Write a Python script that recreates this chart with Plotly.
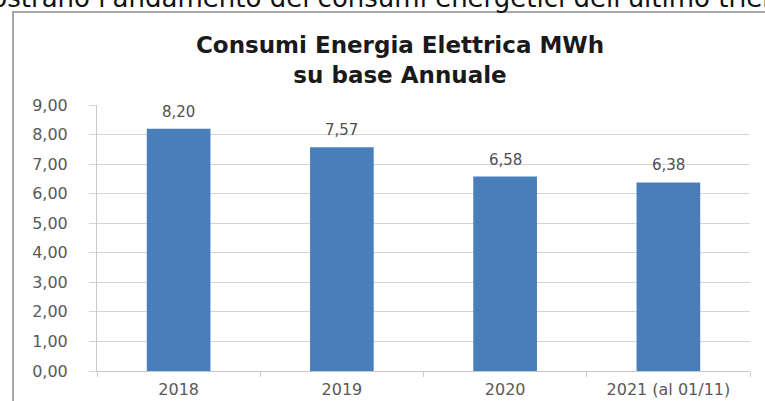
import plotly.graph_objects as go

categories = ["2018", "2019", "2020", "2021 (al 01/11)"]
values = [8.20, 7.57, 6.58, 6.38]
y_ticks = [0, 1, 2, 3, 4, 5, 6, 7, 8, 9]
title_text = "Consumi Energia Elettrica MWh<br>su base Annuale"
top_text = "mostrano l'andamento dei consumi energetici dell'ultimo triennio."

W, H = 765, 401
ML, MR, MT, MB = 97, 15, 105, 30
PW = W - ML - MR
PH = H - MT - MB

def px_x(px):
    return (px - ML) / PW

def px_y(py):
    return (H - MB - py) / PH

FONT = "DejaVu Sans"
GRAY = "#595959"

fig = go.Figure()
fig.add_trace(go.Bar(
    x=categories, y=values,
    marker=dict(color="#4a7ebb", line=dict(width=0)),
    width=0.39,
    hoverinfo="skip",
))

annotations = []
for i, v in enumerate(values):
    annotations.append(dict(
        x=i, y=v, xref="x", yref="y",
        text=f"{v:.2f}".replace(".", ","),
        showarrow=False, yanchor="bottom", yshift=6,
        font=dict(family=FONT, size=15, color="#505050"),
    ))

annotations.append(dict(
    x=px_x(-36), y=px_y(15), xref="paper", yref="paper",
    xanchor="left", yanchor="bottom",
    text=top_text, showarrow=False,
    font=dict(family=FONT, size=26, color="#111111"),
))

shapes = [
    dict(type="line", xref="paper", yref="paper",
         x0=px_x(12), x1=px_x(770), y0=px_y(12), y1=px_y(12),
         line=dict(color="#a8a8a8", width=2)),
    dict(type="line", xref="paper", yref="paper",
         x0=px_x(13), x1=px_x(13), y0=px_y(12), y1=px_y(410),
         line=dict(color="#a8a8a8", width=2)),
]

fig.update_layout(
    width=W, height=H,
    margin=dict(l=ML, r=MR, t=MT, b=MB, autoexpand=False),
    paper_bgcolor="white", plot_bgcolor="white",
    separators=",.",
    showlegend=False,
    title=dict(text=title_text, x=400 / W, xref="container", xanchor="center",
               y=1 - 53 / H, yref="container", yanchor="top",
               font=dict(family=FONT, size=23, color="#1a1a1a", weight="bold")),
    annotations=annotations,
    shapes=shapes,
    xaxis=dict(
        type="category", range=[-0.5, 3.5], showgrid=False,
        showline=True, linecolor="#c8c8c8", linewidth=1,
        ticks="outside", tickson="boundaries", ticklen=5, tickcolor="#c8c8c8",
        tickfont=dict(family=FONT, size=16, color=GRAY),
        ticklabelstandoff=4, tickangle=0,
    ),
    yaxis=dict(
        range=[0, 9], tickvals=y_ticks, tickformat=".2f",
        showgrid=True, gridcolor="#d4d4d4", gridwidth=1,
        showline=True, linecolor="#c8c8c8", linewidth=1,
        ticks="outside", ticklen=7, tickcolor="#d4d4d4",
        tickfont=dict(family=FONT, size=16, color=GRAY),
        ticklabelstandoff=18,
        zeroline=False,
    ),
)

fig.write_html("out.html")
